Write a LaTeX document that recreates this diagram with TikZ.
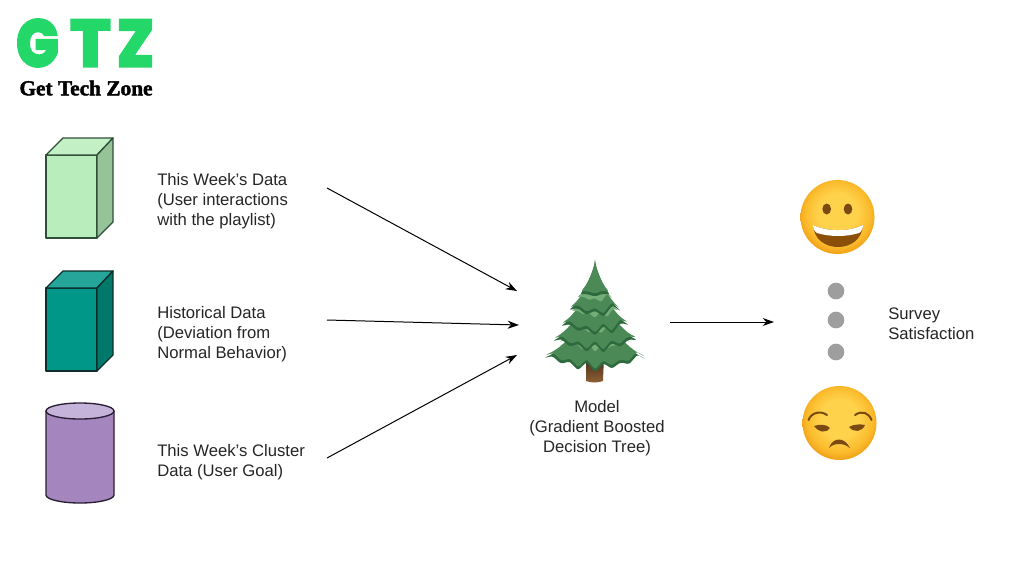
\documentclass[tikz,border=0pt]{standalone}
\usepackage{fontspec}
\setmainfont{Liberation Sans}
\newfontfamily\logofont[FakeBold=3]{Poppins ExtraBold}
\newfontfamily\subfont[FakeBold=2]{Liberation Serif Bold}
\usetikzlibrary{arrows.meta}
\definecolor{lgreen}{HTML}{23D769}
\definecolor{FFDA}{HTML}{FFD24C}
\definecolor{FFC}{HTML}{FBBB2C}
\definecolor{FOR}{HTML}{EC9510}
\definecolor{treedark}{HTML}{2E6A3E}
\definecolor{treemid}{HTML}{4B8A57}
\definecolor{treelight}{HTML}{74AD77}
\definecolor{lightfront}{HTML}{B9EDBB}
\definecolor{lighttop}{HTML}{C4F0C5}
\definecolor{lightside}{HTML}{96C498}
\definecolor{tealfront}{HTML}{009688}
\definecolor{tealtop}{HTML}{26A69A}
\definecolor{tealside}{HTML}{00796B}
\definecolor{cylbody}{HTML}{A585BD}
\definecolor{cyltop}{HTML}{C6B3D9}
\definecolor{treetrunkA}{HTML}{3E2410}
\definecolor{treetrunkB}{HTML}{8F6238}
\definecolor{eyebrown}{HTML}{7A4A12}
\definecolor{mouthbrown}{HTML}{8A4F08}
\definecolor{boxline}{HTML}{2F4F38}
\definecolor{tealline}{HTML}{0E2E2B}
\definecolor{cylline}{HTML}{2A1E35}
\pgfdeclareradialshading{facehappy}{\pgfpoint{0bp}{4bp}}{color(0bp)=(FFDA);color(13bp)=(FFDA);color(22bp)=(FFC);color(29bp)=(FOR);color(50bp)=(FOR)}
\tikzset{
  body/.style={font=\fontsize{12.5}{15}\selectfont,align=left,anchor=west,inner sep=0pt,text=black!85},
  bodyc/.style={font=\fontsize{12.5}{15}\selectfont,align=center,inner sep=0pt,text=black!85},
  link/.style={-{Stealth[length=8.5pt,width=6pt]},line width=0.75pt,black},
  boxedge/.style={draw=boxline,line width=1pt,line join=round},
  tealedge/.style={draw=tealline,line width=1pt,line join=round},
  cyledge/.style={draw=cylline,line width=1pt,line join=round},
  gdot/.style={circle,fill=black!38,inner sep=0pt,minimum size=12.5pt},
  logoletter/.style={inner sep=0pt,text=lgreen,font=\logofont\fontsize{50}{50}\selectfont}
}
% #1 ytop, #2 ybot, #3 half width, #4 half number of steps, #5 side rise, #6 notch depth, #7 colour
\newcommand\tiershape[7]{%
  \pgfmathsetmacro\tTop{#1}\pgfmathsetmacro\tBot{#2}\pgfmathsetmacro\tHw{#3}%
  \pgfmathtruncatemacro\tHalf{#4}\pgfmathtruncatemacro\tAll{2*(#4)}%
  \pgfmathsetmacro\tRise{#5}\pgfmathsetmacro\tNotch{#6}%
  \pgfmathsetmacro\tCa{\tTop+0.40*(\tBot-\tTop)}\pgfmathsetmacro\tCb{\tTop+0.72*(\tBot-\tTop)}%
  \pgfmathsetmacro\tXa{595-0.24*\tHw}\pgfmathsetmacro\tXb{595-0.62*\tHw}\pgfmathsetmacro\tXc{595-\tHw}%
  \pgfmathsetmacro\tXd{595+0.62*\tHw}\pgfmathsetmacro\tXe{595+0.24*\tHw}\pgfmathsetmacro\tYc{\tBot-\tRise}%
  \fill[#7,rounded corners=1.6pt,line join=round]
    (595,\tTop) .. controls (\tXa,\tCa) and (\tXb,\tCb) .. (\tXc,\tYc)
    \foreach \kk [evaluate=\kk as \px using 595+\tHw*(\kk-\tHalf)/\tHalf,
                  evaluate=\kk as \py using \tBot-\tRise*((\kk-\tHalf)/\tHalf)^2-\tNotch*(0.5-0.5*cos(180*\kk))+1.5*sin(\kk*130)] in {1,...,\tAll}{ -- (\px,\py) }
    .. controls (\tXd,\tCb) and (\tXe,\tCa) .. (595,\tTop) -- cycle;
}
\newcommand\treetier[5]{%
  \tiershape{#1}{#2+3}{#3+1}{#4}{#5}{7}{treedark}
  \tiershape{#1}{#2}{#3}{#4}{#5}{7}{treemid}
  \tiershape{#1}{#1+0.76*(#2-#1)}{0.72*#3}{#4}{0.7*#5}{5}{treelight}
  \tiershape{#1}{#1+0.50*(#2-#1)}{0.40*#3}{#4-1}{0.4*#5}{3}{treemid}
}
\begin{document}
\begin{tikzpicture}[x=0.75pt,y=-0.75pt]
\useasboundingbox (0,0) rectangle (1024,576);
\fill[white] (0,0) rectangle (1024,576);
% logo
\node[logoletter,xscale=0.85] (logoG) at (37.5,43) {G};
\node[logoletter] (logoT) at (90.5,43) {T};
\node[logoletter,xscale=0.92] (logoZ) at (135.5,43) {Z};
\node[inner sep=0pt,font=\subfont\fontsize{16}{16}\selectfont] (logoText) at (86,88) {Get Tech Zone};
% cuboid 1
\filldraw[boxedge,fill=lightfront] (46,155) rectangle (97,238);
\filldraw[boxedge,fill=lighttop] (46,155) -- (63,138) -- (113,138) -- (97,155) -- cycle;
\filldraw[boxedge,fill=lightside] (97,155) -- (113,138) -- (113,222) -- (97,238) -- cycle;
% cuboid 2
\filldraw[tealedge,fill=tealfront] (46,288) rectangle (97,371);
\filldraw[tealedge,fill=tealtop] (46,288) -- (63,271) -- (113,271) -- (97,288) -- cycle;
\filldraw[tealedge,fill=tealside] (97,288) -- (113,271) -- (113,355) -- (97,371) -- cycle;
% cylinder
\filldraw[cyledge,fill=cylbody] (46,411) -- (46,495) arc[start angle=180,end angle=0,x radius=34,y radius=8] -- (114,411) -- cycle;
\filldraw[cyledge,fill=cyltop] (80,411) ellipse[x radius=34,y radius=8];
% texts
\node[body] (t1) at (157,201) {This Week’s Data\\(User interactions\\with the playlist)};
\node[body] (t2) at (157,334) {Historical Data\\(Deviation from\\Normal Behavior)};
\node[body] (t3) at (157,462) {This Week’s Cluster\\Data (User Goal)};
\node[bodyc] (t4) at (597,428) {Model\\(Gradient Boosted\\Decision Tree)};
\node[body] (t5) at (888,324) {Survey\\Satisfaction};
% tree
\shade[top color=treetrunkA,bottom color=treetrunkB] (586,355) -- (604,355) -- (603,381) .. controls (597,383) and (592,383) .. (586,381) -- cycle;
\treetier{296}{368}{50}{6}{13}
\treetier{281}{349}{41}{5}{11}
\treetier{272}{332}{33}{4}{9}
\treetier{265}{314}{25}{3}{7}
\tiershape{262}{298}{15}{2}{4}{4}{treedark}
\tiershape{262}{295}{14}{2}{4}{4}{treemid}
\coordinate (treeL) at (519,325);
\coordinate (treeUp) at (517,291);
\coordinate (treeLow) at (517,355);
\coordinate (treeOut) at (670,322);
\coordinate (outEnd) at (774,322);
\coordinate (s1) at (327,188);
\coordinate (s2) at (327,320);
\coordinate (s3) at (327,458);
\draw[link] (s1) -- (treeUp);
\draw[link] (s2) -- (treeL);
\draw[link] (s3) -- (treeLow);
\draw[link] (treeOut) -- (outEnd);
% dots
\node[gdot] (d1) at (836,291) {};
\node[gdot] (d2) at (836,320) {};
\node[gdot] (d3) at (836,352) {};
% happy face
\shade[shading=facehappy] (837.5,217) circle[radius=37];
\fill[eyebrown] (826.7,209) ellipse[x radius=4.3,y radius=5.5];
\fill[eyebrown] (848,209) ellipse[x radius=4.3,y radius=5.5];
\fill[mouthbrown] (813,225) .. controls (828,232) and (848,232) .. (863,225) .. controls (862,240) and (850,247) .. (838,247) .. controls (826,247) and (814,240) .. (813,225) -- cycle;
\fill[white] (813,225) .. controls (828,232) and (848,232) .. (863,225) .. controls (863,229) and (861,232) .. (859,233) .. controls (846,237) and (830,237) .. (817,233) .. controls (815,232) and (813,229) .. (813,225) -- cycle;
% unamused face
\shade[shading=facehappy] (839.5,423) circle[radius=37];
\draw[eyebrown,line width=1.5pt,line cap=round] (808.5,420) .. controls (811,413) and (820,410) .. (827,415);
\draw[eyebrown,line width=1.5pt,line cap=round] (855,415) .. controls (862,410) and (869,413) .. (871.5,420);
\fill[eyebrown] (814,426) .. controls (820,424) and (826,424) .. (830,428) .. controls (827,433) and (819,433) .. (814,426) -- cycle;
\fill[eyebrown] (849,427) .. controls (854,424) and (860,424) .. (865,425) .. controls (862,432) and (854,433) .. (849,427) -- cycle;
\fill[eyebrown] (829,448) .. controls (831,442) and (835,439.5) .. (839,439.5) .. controls (843,439.5) and (847,442) .. (850,448) .. controls (846,445) and (843,444) .. (839,444) .. controls (835,444) and (832,445) .. (829,448) -- cycle;
\end{tikzpicture}
\end{document}
